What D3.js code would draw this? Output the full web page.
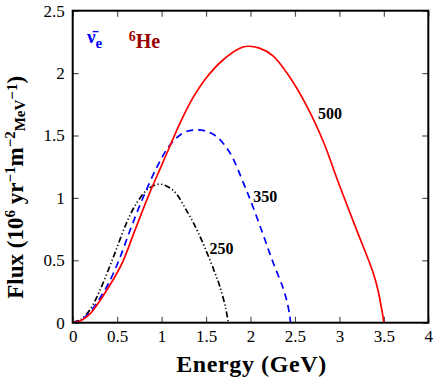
<!DOCTYPE html>
<html>
<head>
<meta charset="utf-8">
<script src="https://cdn.jsdelivr.net/npm/d3@7"></script>
<style>
  body { margin: 0; background: #fff; }
</style>
</head>
<body>
<div id="chart"></div>
<script>
// gamma = 500 (red, solid)
const energy500 = [0, 0.1, 0.2, 0.3, 0.4, 0.5, 0.57, 0.7, 0.86, 1.0, 1.075, 1.206, 1.355, 1.506, 1.69, 1.88, 1.97, 2.1, 2.25, 2.42, 2.63, 2.82, 2.98, 3.19, 3.38, 3.434, 3.47, 3.49, 3.5];
const flux500   = [0, 0.02, 0.075, 0.17, 0.28, 0.40, 0.5, 0.74, 1.03, 1.26, 1.384, 1.598, 1.805, 1.965, 2.105, 2.199, 2.215, 2.2, 2.14, 1.99, 1.74, 1.45, 1.14, 0.75, 0.40, 0.26, 0.13, 0.05, 0];
// gamma = 350 (blue, dashed)
const energy350 = [0, 0.1, 0.2, 0.3, 0.4, 0.52, 0.65, 0.79, 0.95, 1.09, 1.24, 1.38, 1.5, 1.62, 1.77, 1.92, 2.0, 2.14, 2.25, 2.37, 2.42, 2.44, 2.45];
const flux350   = [0, 0.025, 0.09, 0.19, 0.31, 0.5, 0.75, 1.0, 1.25, 1.42, 1.52, 1.545, 1.535, 1.49, 1.36, 1.12, 0.98, 0.71, 0.49, 0.27, 0.14, 0.06, 0];
// gamma = 250 (black, dash-dot-dot)
const energy250 = [0, 0.1, 0.2, 0.3, 0.46, 0.6, 0.72, 0.85, 0.98, 1.13, 1.28, 1.4, 1.505, 1.6, 1.655, 1.72, 1.75];
const flux250   = [0, 0.03, 0.11, 0.25, 0.53, 0.79, 0.96, 1.073, 1.11, 1.06, 0.90, 0.74, 0.57, 0.40, 0.29, 0.12, 0];

const xTicks = [0, 0.5, 1, 1.5, 2, 2.5, 3, 3.5, 4];
const yTicks = [0, 0.5, 1, 1.5, 2, 2.5];

const serif = "Liberation Serif";

const margin = {top: 10.7, right: 7.7, bottom: 59.3, left: 72.7},
      width = 436 - margin.left - margin.right,
      height = 382 - margin.top - margin.bottom;

const svg = d3.select("#chart")
    .append("svg")
    .attr("width", 436)
    .attr("height", 382)
    .append("g")
    .attr("transform", `translate(${margin.left},${margin.top})`);

const x = d3.scaleLinear().domain([0, 4]).range([0, width]);
const y = d3.scaleLinear().domain([0, 2.5]).range([height, 0]);

const fmt = d => d3.format("")(d);

// axes, ticks pointing inward
svg.append("g")
    .attr("transform", `translate(0,${height})`)
    .call(d3.axisBottom(x).tickValues(xTicks).tickSize(-6).tickPadding(7).tickFormat(fmt))
    .call(g => g.select(".domain").remove());

svg.append("g")
    .call(d3.axisLeft(y).tickValues(yTicks).tickSize(-6).tickPadding(8).tickFormat(fmt))
    .call(g => g.select(".domain").remove());

svg.append("g")
    .call(d3.axisTop(x).tickValues(xTicks).tickSize(-6).tickFormat(""))
    .call(g => g.select(".domain").remove());

svg.append("g")
    .attr("transform", `translate(${width},0)`)
    .call(d3.axisRight(y).tickValues(yTicks).tickSize(-6).tickFormat(""))
    .call(g => g.select(".domain").remove());

svg.selectAll("g").attr("font-family", null);
svg.selectAll(".tick line").attr("stroke", "#555").attr("stroke-width", 1.2);
svg.selectAll(".tick text")
    .attr("font-family", serif)
    .attr("font-size", 17)
    .attr("fill", "#000");

const line = d3.line()
    .x(d => x(d[0]))
    .y(d => y(d[1]))
    .curve(d3.curveCatmullRom.alpha(0.5));

const series = [
    {e: energy250, f: flux250, color: "#000", dash: "6,2.5,1.2,2.5,1.2,2.5"},
    {e: energy350, f: flux350, color: "#0000ff", dash: "7,5"},
    {e: energy500, f: flux500, color: "#ff0000", dash: null}
];

svg.append("clipPath").attr("id", "clip")
    .append("rect").attr("width", width).attr("height", height);

series.forEach(s => {
    svg.append("path")
        .datum(d3.zip(s.e, s.f))
        .attr("clip-path", "url(#clip)")
        .attr("fill", "none")
        .attr("stroke", s.color)
        .attr("stroke-width", 1.7)
        .attr("stroke-dasharray", s.dash)
        .attr("d", line);
});

// frame
svg.append("rect")
    .attr("width", width)
    .attr("height", height)
    .attr("fill", "none")
    .attr("stroke", "#000")
    .attr("stroke-width", 2);

// curve labels
const labels = [
    {t: "500", e: 2.76, f: 1.63},
    {t: "350", e: 2.03, f: 0.97},
    {t: "250", e: 1.54, f: 0.55}
];
svg.selectAll(".clabel")
    .data(labels)
    .join("text")
    .attr("class", "clabel")
    .attr("x", d => x(d.e))
    .attr("y", d => y(d.f))
    .attr("font-family", serif)
    .attr("font-size", 16)
    .attr("font-weight", "bold")
    .text(d => d.t);

// legend text
const nu = svg.append("text")
    .attr("x", x(0.16))
    .attr("y", y(2.24))
    .attr("font-family", serif)
    .attr("font-size", 19)
    .attr("font-weight", "bold")
    .attr("fill", "#0000ff");
nu.append("tspan").text("\u03BD\u0304");
nu.append("tspan").attr("dy", 5).attr("font-size", 15).text("e");

const he = svg.append("text")
    .attr("x", x(0.63))
    .attr("y", y(2.2))
    .attr("font-family", serif)
    .attr("font-weight", "bold")
    .attr("fill", "#990000");
he.append("tspan").attr("dy", -7).attr("font-size", 14).text("6");
he.append("tspan").attr("dy", 7).attr("font-size", 20).text("He");

// axis titles
svg.append("text")
    .attr("x", width / 2 + 1)
    .attr("y", height + 49)
    .attr("text-anchor", "middle")
    .attr("font-family", serif)
    .attr("font-size", 24)
    .attr("font-weight", "bold")
    .attr("letter-spacing", 0.6)
    .text("Energy (GeV)");

const yt = svg.append("text")
    .attr("transform", `translate(-50,${height - 24}) rotate(-90)`)
    .attr("font-family", serif)
    .attr("font-size", 23)
    .attr("font-weight", "bold");
yt.append("tspan").text("Flux (10");
yt.append("tspan").attr("dy", -8).attr("font-size", 15).text("6");
yt.append("tspan").attr("dy", 8).text(" yr");
yt.append("tspan").attr("dy", -8).attr("font-size", 15).text("\u22121");
yt.append("tspan").attr("dy", 8).text("m");
yt.append("tspan").attr("dy", -8).attr("font-size", 15).text("\u22122");
yt.append("tspan").attr("dy", 10).attr("font-size", 15).text("MeV");
yt.append("tspan").attr("dy", -8).attr("font-size", 15).text("\u22121");
yt.append("tspan").attr("dy", 6).text(")");
</script>
</body>
</html>
